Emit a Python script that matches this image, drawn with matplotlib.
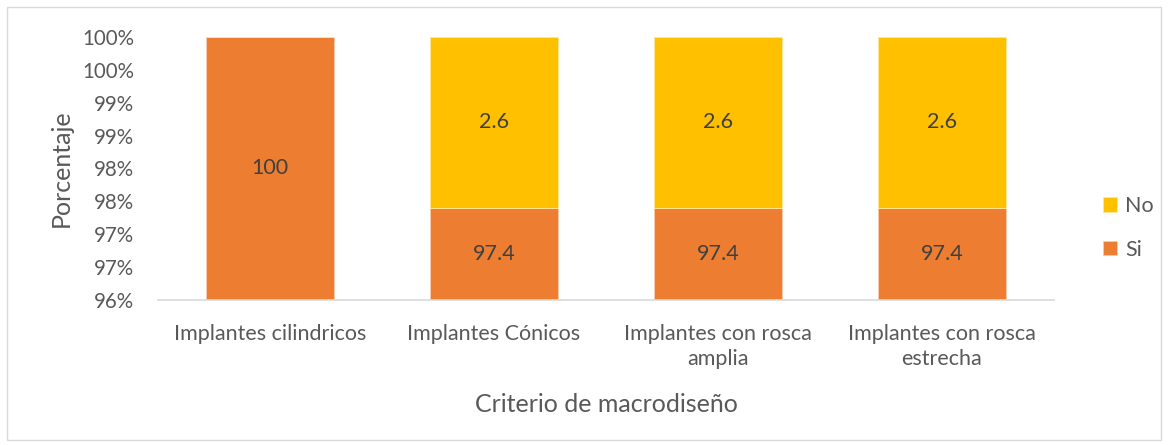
import numpy as np
import matplotlib.pyplot as plt
from matplotlib.patches import Rectangle

# Datos del gráfico
categorias = ['Implantes cilindricos', 'Implantes Cónicos',
              'Implantes con rosca\namplia', 'Implantes con rosca\nestrecha']
si = [100, 97.4, 97.4, 97.4]
no = [0, 2.6, 2.6, 2.6]

plt.rcParams['font.family'] = ['Lato', 'DejaVu Sans']
gris = '#595959'
naranja = '#ED7D31'
amarillo = '#FFC000'

fig = plt.figure(figsize=(11.68, 4.45), dpi=100)
ax = fig.add_axes([0.1353, 0.3258, 0.767, 0.5911])

x = np.arange(len(categorias))
ymin, ymax = 96, 100
ancho = 0.57

b_si = ax.bar(x, si, ancho, color=naranja, edgecolor='#F8CBAD', linewidth=0.6, label='Si', zorder=2)
b_no = ax.bar(x, no, ancho, bottom=si, color=amarillo, edgecolor='#FFE699', linewidth=0.6, label='No', zorder=2)

# etiquetas centradas en la parte visible de cada segmento
for i in range(len(x)):
    lo = max(ymin, 0)
    hi = min(si[i], ymax)
    ax.text(x[i], (lo + hi) / 2, f'{si[i]:g}', ha='center', va='center', fontsize=15.5, color='#404040', zorder=3)
    if no[i] > 0:
        lo = max(si[i], ymin)
        hi = min(si[i] + no[i], ymax)
        ax.text(x[i], (lo + hi) / 2, f'{no[i]:g}', ha='center', va='center', fontsize=15.5, color='#404040', zorder=3)

ax.set_xlim(-0.5, len(x) - 0.5)
ax.set_ylim(ymin, ymax)
yt = np.arange(96, 100.01, 0.5)
ax.set_yticks(yt)
# redondeo como Excel (mitad hacia arriba)
ax.set_yticklabels([f'{int(np.floor(v + 0.5))}%' for v in yt])
ax.set_xticks(x)
ax.set_xticklabels(categorias, linespacing=1.35)
ax.tick_params(axis='both', length=0, colors=gris, labelsize=15.5)
ax.tick_params(axis='y', labelsize=14.8, pad=17)
ax.tick_params(axis='x', pad=17)

for s in ['top', 'right', 'left']:
    ax.spines[s].set_visible(False)
ax.spines['bottom'].set_color('#D9D9D9')
ax.spines['bottom'].set_linewidth(1.2)

ax.set_xlabel('Criterio de macrodiseño', fontsize=18, color=gris, labelpad=17)
ax.set_ylabel('Porcentaje', fontsize=18, color=gris, labelpad=7)

leg = ax.legend(handles=[b_no, b_si], loc='center left', bbox_to_anchor=(1.045, 0.274),
                frameon=False, fontsize=15.5, handlelength=0.65, handleheight=0.65,
                handletextpad=0.4, labelspacing=1.1, borderaxespad=0)
for t in leg.get_texts():
    t.set_color(gris)

# borde del área del gráfico
fig.patches.append(Rectangle((7 / 1168, 5 / 445), 1154 / 1168, 433 / 445, transform=fig.transFigure,
                             fill=False, edgecolor='#D9D9D9', linewidth=1))

fig.savefig('out.png', dpi=100)
